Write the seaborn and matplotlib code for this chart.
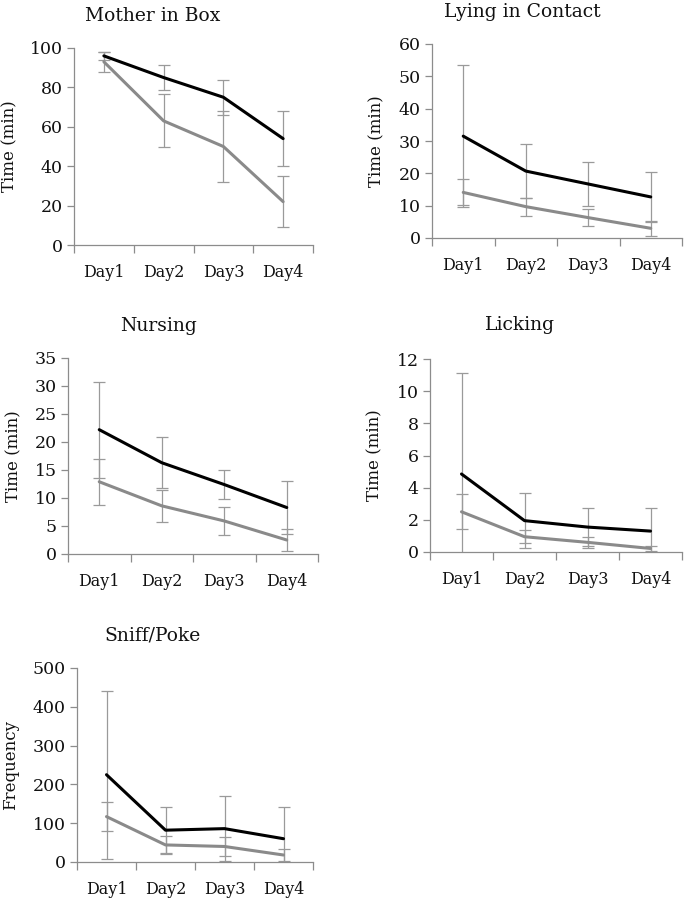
import numpy as np
import pandas as pd
import matplotlib
matplotlib.use("Agg")
import matplotlib.pyplot as plt
import seaborn as sns
from matplotlib.ticker import FixedLocator

# ─── Data ────────────────────────────────────────────────────────────────────
days = ["Day1", "Day2", "Day3", "Day4"]

mother_black     = [96, 85, 75, 54]
mother_black_err = [2, 6.5, 9, 14]
mother_grey      = [93, 63, 50, 22]
mother_grey_err  = [5, 13.5, 18, 13]

contact_black     = [31.5, 20.7, 16.7, 12.7]
contact_black_err = [22, 8.4, 6.7, 7.8]
contact_grey      = [14.1, 9.7, 6.3, 3.0]
contact_grey_err  = [4, 2.8, 2.7, 2.4]

nursing_black     = [22.2, 16.3, 12.4, 8.3]
nursing_black_err = [8.6, 4.6, 2.6, 4.7]
nursing_grey      = [12.9, 8.6, 5.9, 2.5]
nursing_grey_err  = [4.1, 2.8, 2.5, 2.0]

licking_black     = [4.85, 1.95, 1.55, 1.3]
licking_black_err = [6.3, 1.7, 1.2, 1.45]
licking_grey      = [2.5, 0.95, 0.6, 0.22]
licking_grey_err  = [1.1, 0.4, 0.35, 0.18]

sniff_black     = [225, 82, 86, 60]
sniff_black_err = [217, 60, 83, 81]
sniff_grey      = [117, 44, 40, 18]
sniff_grey_err  = [38, 24, 24, 15]

titles  = ["Mother in Box", "Lying in Contact", "Nursing", "Licking", "Sniff/Poke"]
ylabels = ["Time (min)", "Time (min)", "Time (min)", "Time (min)", "Frequency"]
ymax    = [100, 60, 35, 12, 500]
ystep   = [20, 10, 5, 2, 100]

# ─── Layout (pixel boxes: left, right, top, bottom) ──────────────────────────
W, H = 685, 901
boxes = [(74, 313, 48, 245), (432, 682, 44, 238), (68, 318, 358, 554),
         (430, 682, 359, 552), (77, 313, 668, 862)]
title_pos = [(153, 21), (522, 17), (158, 331), (520, 330), (153, 640)]
ylabel_x  = [10, 377, 14, 375, 11]

BLACK = "#000000"
GREY = "#8a8a8a"
ERR = "#9a9a9a"
AXC = "#8c8c8c"

sns.set_style("white")
plt.rcParams["font.family"] = ["DejaVu Serif"]
plt.rcParams["text.color"] = "#111111"
plt.rcParams["axes.labelcolor"] = "#111111"
plt.rcParams["xtick.labelcolor"] = "#111111"
plt.rcParams["ytick.labelcolor"] = "#111111"

fig = plt.figure(figsize=(W / 100, H / 100), dpi=100)

panels = [
    (mother_black, mother_black_err, mother_grey, mother_grey_err),
    (contact_black, contact_black_err, contact_grey, contact_grey_err),
    (nursing_black, nursing_black_err, nursing_grey, nursing_grey_err),
    (licking_black, licking_black_err, licking_grey, licking_grey_err),
    (sniff_black, sniff_black_err, sniff_grey, sniff_grey_err),
]

x = np.arange(len(days))

for i, (b, be, g, ge) in enumerate(panels):
    l, r, t, btm = boxes[i]
    ax = fig.add_axes([l / W, 1 - btm / H, (r - l) / W, (btm - t) / H])

    df = pd.DataFrame({
        "day": np.concatenate([x, x]),
        "value": b + g,
        "group": ["black"] * 4 + ["grey"] * 4,
    })

    # error bars first, lines on top
    ax.errorbar(x, b, yerr=be, fmt="none", ecolor=ERR, elinewidth=0.9,
                capsize=4, capthick=0.9, zorder=1)
    ax.errorbar(x, g, yerr=ge, fmt="none", ecolor=ERR, elinewidth=0.9,
                capsize=4, capthick=0.9, zorder=1)
    sns.lineplot(data=df, x="day", y="value", hue="group",
                 palette={"black": BLACK, "grey": GREY}, linewidth=2.2,
                 legend=False, ax=ax, zorder=3)

    ax.set_xlim(-0.5, 3.5)
    ax.set_ylim(0, ymax[i])
    ax.set_yticks(np.arange(0, ymax[i] + 0.001, ystep[i]))
    ax.set_xticks(x)
    ax.set_xticklabels(days)
    ax.xaxis.set_minor_locator(FixedLocator(np.arange(-0.5, 4, 1)))

    for side in ("top", "right"):
        ax.spines[side].set_visible(False)
    for side in ("left", "bottom"):
        ax.spines[side].set_color(AXC)
        ax.spines[side].set_linewidth(0.9)

    ax.tick_params(axis="y", which="major", direction="out", length=5,
                   width=0.9, color=AXC, pad=3, labelsize=12.5, left=True)
    ax.tick_params(axis="x", which="major", length=0, pad=14, labelsize=11.5)
    ax.tick_params(axis="x", which="minor", direction="out", length=6,
                   width=0.9, color=AXC, bottom=True)

    ax.set_xlabel("")
    ax.set_ylabel(ylabels[i], fontsize=12, va="center")
    ax.yaxis.set_label_coords((ylabel_x[i] - l) / (r - l), 0.5)

    tx, ty = title_pos[i]
    fig.text(tx / W, 1 - ty / H, titles[i], ha="center", va="baseline", fontsize=13.5)

fig.savefig("out.png", dpi=100)
